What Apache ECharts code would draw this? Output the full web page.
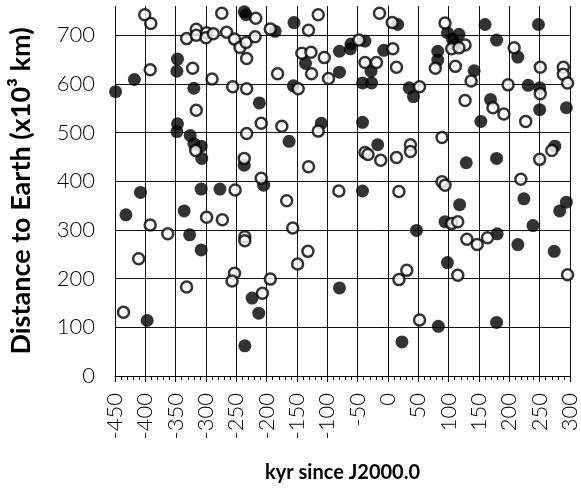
<!DOCTYPE html>
<html>
<head>
<meta charset="utf-8">
<script src="https://cdn.jsdelivr.net/npm/echarts@6/dist/echarts.min.js"></script>
<style>
html,body{margin:0;padding:0;background:#fff;}
#chart{width:581px;height:488px;}
</style>
</head>
<body>
<div id="chart"></div>
<script>
// filled circles
var filledKyr = [-237,-234,-347,-348,-418,-449,-320,-212,-347,-348,-326,-320,-308,-307,-237,-205,-408,-308,-277,-155,-186,16,-38,-61,-62,-80,-7,-136,-28,-80,-42,-27,-156,35,42,-110,-42,-163,-17,-42,160,248,98,117,106,110,179,214,82,82,142,231,250,169,153,250,294,129,179,275,-432,-336,-327,-308,-224,-213,-397,-236,47,-80,23,224,118,294,283,94,239,180,214,274,98,83,179];
var filledDist = [748,742,651,626,609,584,591,561,518,502,494,477,472,447,433,392,377,384,384,726,708,722,688,682,672,667,669,642,626,624,602,602,596,592,574,519,521,482,475,380,722,722,705,702,692,682,690,655,667,649,627,597,592,568,523,547,551,438,447,472,331,339,290,259,160,129,114,62,299,181,70,364,352,357,339,317,309,292,270,256,233,102,110];
// open circles
var openKyr = [-401,-391,-274,-218,-332,-316,-316,-299,-300,-288,-266,-253,-244,-234,-219,-233,-322,-392,-290,-256,-233,-316,-209,-233,-317,-237,-209,-252,-115,-194,-131,-14,7,-48,8,-142,-127,-105,-38,-19,14,-182,-126,-98,-148,52,-175,-115,-38,-33,-12,14,37,37,-131,-81,18,94,127,105,117,208,78,111,137,251,289,289,296,198,251,173,191,127,227,89,250,270,89,94,219,-392,-363,-299,-273,-411,-236,-236,-253,-257,-332,-207,-436,-167,-157,-132,-149,-194,18,31,52,105,115,130,147,164,115,296];
var openDist = [742,724,745,735,693,712,700,705,695,703,706,692,675,685,697,652,632,629,610,594,590,546,519,498,463,447,406,382,742,713,710,745,726,690,672,663,665,654,644,644,634,621,621,611,590,594,513,503,459,455,443,449,475,461,430,380,379,725,680,672,674,674,632,636,606,634,634,620,602,598,580,551,538,566,523,490,445,463,399,392,404,310,292,326,321,241,286,278,211,195,183,170,131,360,304,256,230,199,198,217,115,313,317,281,270,284,207,208];

function pairs(xs, ys) {
    var out = [];
    for (var i = 0; i < xs.length; i++) {
        out.push([xs[i], ys[i]]);
    }
    return out;
}

var font = 'Lato, "DejaVu Sans", sans-serif';
var chart = echarts.init(document.getElementById('chart'));
var option = {
    backgroundColor: '#FFFFFF',
    animation: false,
    grid: {
        left: 105,
        right: 11,
        top: 6,
        bottom: 100
    },
    xAxis: {
        type: 'value',
        min: -450,
        max: 300,
        interval: 50,
        name: 'kyr since J2000.0',
        nameLocation: 'middle',
        nameGap: 87,
        nameTextStyle: {color: '#000', fontSize: 20, fontWeight: 'bold', fontFamily: font},
        axisLine: {show: true, onZero: false, lineStyle: {color: '#000', width: 1}},
        axisTick: {show: true, length: 6, lineStyle: {color: '#000'}},
        minorTick: {show: true, splitNumber: 5, length: 4, lineStyle: {color: '#000'}},
        axisLabel: {rotate: 90, margin: 17, fontSize: 22, fontWeight: 300, color: '#000', fontFamily: font},
        splitLine: {show: true, lineStyle: {color: '#111', width: 1}}
    },
    yAxis: {
        type: 'value',
        min: 0,
        max: 760,
        interval: 100,
        name: 'Distance to Earth (x10³ km)',
        nameLocation: 'middle',
        nameGap: 80,
        nameTextStyle: {color: '#000', fontSize: 27, fontWeight: 'bold', fontFamily: font},
        axisLine: {show: true, lineStyle: {color: '#000', width: 1}},
        axisTick: {show: true, length: 8, lineStyle: {color: '#000'}},
        axisLabel: {
            margin: 20, fontSize: 22, fontWeight: 300, color: '#000', fontFamily: font, showMaxLabel: false,
            formatter: function (v) { return v % 100 === 0 ? String(v) : ''; }
        },
        splitLine: {show: true, showMaxLine: false, lineStyle: {color: '#111', width: 1}}
    },
    series: [
        {
            name: 'filled',
            type: 'scatter',
            symbol: 'circle',
            symbolSize: 13,
            itemStyle: {color: '#000'},
            data: pairs(filledKyr, filledDist)
        },
        {
            name: 'open',
            type: 'scatter',
            symbol: 'circle',
            symbolSize: 11,
            itemStyle: {color: '#fff', borderColor: '#000', borderWidth: 2.5},
            data: pairs(openKyr, openDist)
        }
    ]
};
chart.setOption(option);
</script>
</body>
</html>
